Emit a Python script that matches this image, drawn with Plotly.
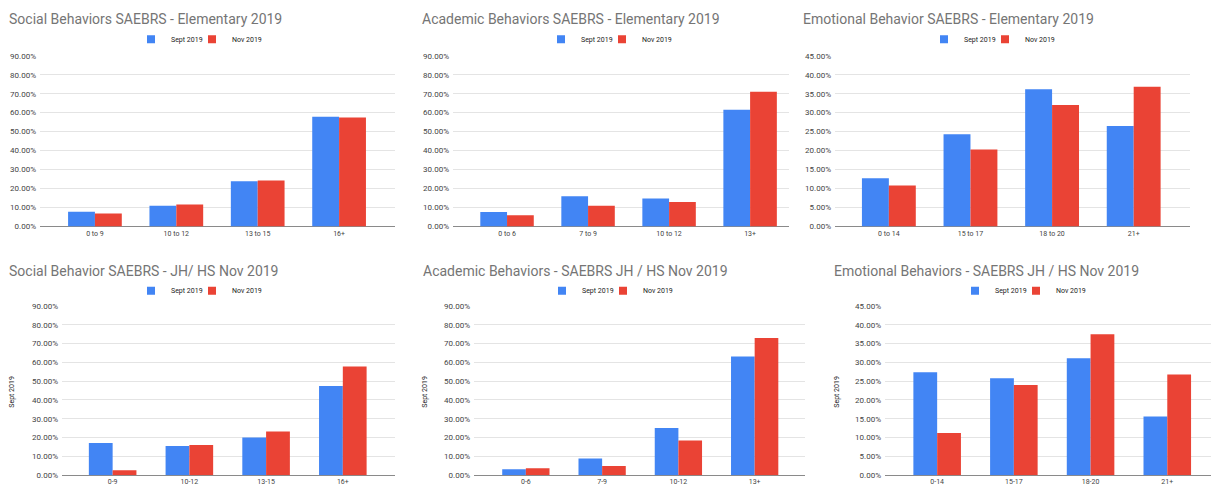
import plotly.graph_objects as go

W, H = 1211, 489

# ---- data (fractions) ----
social_elem_cats = ["0 to 9", "10 to 12", "13 to 15", "16+"]
social_elem_sept = [0.078, 0.109, 0.238, 0.579]
social_elem_nov = [0.069, 0.116, 0.243, 0.574]

academic_elem_cats = ["0 to 6", "7 to 9", "10 to 12", "13+"]
academic_elem_sept = [0.076, 0.159, 0.148, 0.616]
academic_elem_nov = [0.059, 0.109, 0.129, 0.710]

emotional_elem_cats = ["0 to 14", "15 to 17", "18 to 20", "21+"]
emotional_elem_sept = [0.127, 0.243, 0.362, 0.265]
emotional_elem_nov = [0.108, 0.203, 0.320, 0.368]

social_jh_cats = ["0-9", "10-12", "13-15", "16+"]
social_jh_sept = [0.171, 0.155, 0.200, 0.474]
social_jh_nov = [0.026, 0.160, 0.233, 0.578]

academic_jh_cats = ["0-6", "7-9", "10-12", "13+"]
academic_jh_sept = [0.031, 0.089, 0.251, 0.632]
academic_jh_nov = [0.037, 0.049, 0.185, 0.730]

emotional_jh_cats = ["0-14", "15-17", "18-20", "21+"]
emotional_jh_sept = [0.274, 0.258, 0.311, 0.156]
emotional_jh_nov = [0.112, 0.240, 0.375, 0.268]

series_names = ["Sept 2019", "Nov 2019"]
titles = [
    "Social Behaviors SAEBRS - Elementary 2019",
    "Academic Behaviors SAEBRS - Elementary 2019",
    "Emotional Behavior SAEBRS - Elementary 2019",
    "Social Behavior SAEBRS - JH/ HS Nov 2019",
    "Academic Behaviors - SAEBRS JH / HS Nov 2019",
    "Emotional Behaviors - SAEBRS JH / HS Nov 2019",
]

BLUE = "#4285F4"
RED = "#EA4335"

panels = [
    dict(cats=social_elem_cats, s=social_elem_sept, n=social_elem_nov, ymax=0.9, dt=0.1,
         xd=(40, 395), yd=(226.7, 52.7), xr=(-0.675, 3.687), w=0.33,
         title_xy=(7, 15), leg_xy=(151, 36), ytitle=None, xstand=1),
    dict(cats=academic_elem_cats, s=academic_elem_sept, n=academic_elem_nov, ymax=0.9, dt=0.1,
         xd=(453, 789), yd=(226.7, 52.7), xr=(-0.667, 3.48), w=0.33,
         title_xy=(420, 15), leg_xy=(561, 36), ytitle=None, xstand=1),
    dict(cats=emotional_elem_cats, s=emotional_elem_sept, n=emotional_elem_nov, ymax=0.45, dt=0.05,
         xd=(835, 1190), yd=(226.7, 52.7), xr=(-0.66, 3.69), w=0.33,
         title_xy=(801, 15), leg_xy=(944, 36), ytitle=None, xstand=1),
    dict(cats=social_jh_cats, s=social_jh_sept, n=social_jh_nov, ymax=0.9, dt=0.1,
         xd=(62, 395), yd=(480, 307.7), xr=(-0.66, 3.68), w=0.31,
         title_xy=(7, 272), leg_xy=(151, 292), ytitle=(12, 395), xstand=1),
    dict(cats=academic_jh_cats, s=academic_jh_sept, n=academic_jh_nov, ymax=0.9, dt=0.1,
         xd=(474, 805), yd=(480, 307.7), xr=(-0.68, 3.66), w=0.31,
         title_xy=(421, 272), leg_xy=(562, 292), ytitle=(425, 395), xstand=1),
    dict(cats=emotional_jh_cats, s=emotional_jh_sept, n=emotional_jh_nov, ymax=0.45, dt=0.05,
         xd=(885, 1211), yd=(480, 307.7), xr=(-0.68, 3.57), w=0.31,
         title_xy=(832, 272), leg_xy=(975, 292), ytitle=(837, 395), xstand=1),
]

LEG_SYMBOL_OFFSET = 20   # px from legend box left edge to symbol centre
LEG_STEP = 61            # px between the two legend symbols

fig = go.Figure()
layout = dict(
    width=W, height=H, margin=dict(l=0, r=0, t=0, b=0),
    paper_bgcolor="white", plot_bgcolor="white",
    font=dict(family="Roboto, Arial, sans-serif", color="#444"),
    showlegend=True, annotations=[], barmode="overlay",
)

def px(x):
    return x / W

def py(y):
    return 1 - y / H

leg_idx = 0
for i, p in enumerate(panels):
    k = "" if i == 0 else str(i + 1)
    xa, ya = "x" + k, "y" + k
    for j, (name, vals, color, off) in enumerate([(series_names[0], p["s"], BLUE, -p["w"]),
                                                   (series_names[1], p["n"], RED, 0.0)]):
        leg_idx += 1
        leg = "legend" if leg_idx == 1 else "legend" + str(leg_idx)
        fig.add_trace(go.Bar(x=p["cats"], y=vals, name=name, marker_color=color,
                             marker_line_width=0, width=p["w"], offset=off,
                             xaxis=xa, yaxis=ya, showlegend=False))
        fig.add_trace(go.Scatter(x=[None], y=[None], mode="markers", name=name,
                                 marker=dict(symbol="square", size=8, color=color),
                                 xaxis=xa, yaxis=ya, legend=leg, showlegend=True))
        layout[leg] = dict(
            orientation="h",
            x=px(p["leg_xy"][0] + j * LEG_STEP - LEG_SYMBOL_OFFSET), y=py(p["leg_xy"][1]),
            xanchor="left", yanchor="middle", xref="paper", yref="paper",
            font=dict(size=7, color="#222"), itemsizing="trace",
            bgcolor="rgba(0,0,0,0)",
        )
    layout["xaxis" + k] = dict(
        domain=[px(p["xd"][0]), px(p["xd"][1])], anchor=ya,
        type="category", range=list(p["xr"]), showgrid=False, showline=False,
        ticks="", tickfont=dict(size=7, color="#444"), fixedrange=True,
        ticklabelstandoff=p["xstand"],
    )
    layout["yaxis" + k] = dict(
        domain=[py(p["yd"][0]), py(p["yd"][1])], anchor=xa,
        range=[0, p["ymax"]], dtick=p["dt"], tick0=0, tickformat=".2%",
        showgrid=True, gridcolor="#e4e4e4", gridwidth=1,
        zeroline=True, zerolinecolor="#8a8a8a", zerolinewidth=1,
        showline=False, ticks="", ticklabelstandoff=3,
        tickfont=dict(size=8, color="#444"), fixedrange=True,
    )
    layout["annotations"].append(dict(
        text=titles[i], x=px(p["title_xy"][0]), y=py(p["title_xy"][1]),
        xref="paper", yref="paper", xanchor="left", yanchor="middle",
        showarrow=False, font=dict(size=14, color="#757575"),
    ))
    if p["ytitle"]:
        layout["annotations"].append(dict(
            text=series_names[0], x=px(p["ytitle"][0]), y=py(p["ytitle"][1]),
            xref="paper", yref="paper", xanchor="center", yanchor="middle",
            textangle=-90, showarrow=False, font=dict(size=7, color="#222"),
        ))

fig.update_layout(**layout)
fig.write_html(
    "out.html",
    config={"displayModeBar": False},
    post_script="document.body.style.margin='0';document.body.style.overflow='hidden';",
)
